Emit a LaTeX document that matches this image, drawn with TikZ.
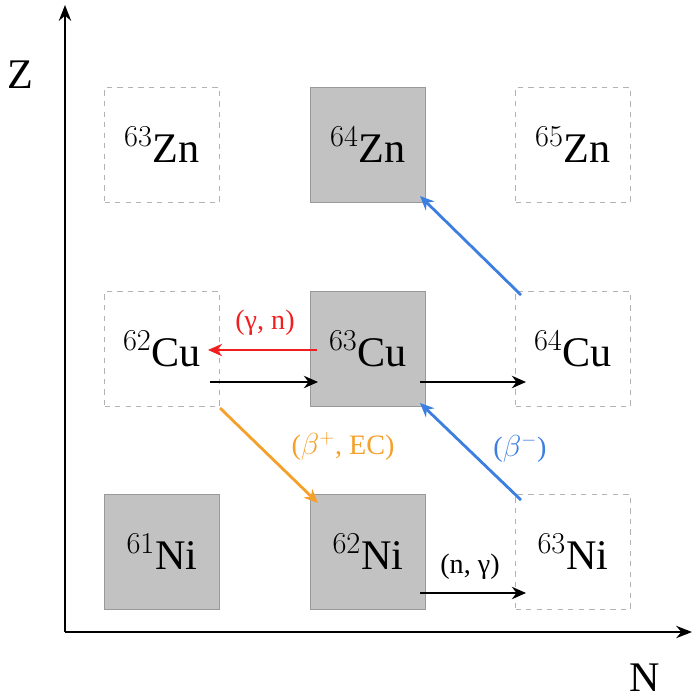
\documentclass[tikz,border=0pt]{standalone}
\usepackage{fontspec}
\setmainfont{Liberation Serif}
\usetikzlibrary{arrows.meta, positioning}
\definecolor{boxgray}{HTML}{C2C2C2}
\definecolor{rxred}{HTML}{F01E1E}
\definecolor{rxorange}{HTML}{F5A02A}
\definecolor{rxblue}{HTML}{3C7FE0}
\begin{document}
\begin{tikzpicture}[x=0.02cm, y=-0.02cm,
  stable/.style={draw=gray!80, fill=boxgray, minimum size=2.3cm, inner sep=0pt, font=\fontsize{24}{28}\selectfont},
  unstable/.style={draw=gray!60, dashed, minimum size=2.3cm, inner sep=0pt, font=\fontsize{24}{28}\selectfont},
  rxarrow/.style={-{Stealth[length=8pt,width=7pt]}, line width=1.6pt},
  rxlabel/.style={font=\fontsize{16}{18}\selectfont}
]
\useasboundingbox (0,0) rectangle (696,700);

% axes
\coordinate (origin) at (65,632);
\coordinate (ztip) at (65,5);
\coordinate (ntip) at (692,632);
\draw[-{Stealth[length=9pt,width=7pt]}, line width=1.2pt] (origin) -- (ztip);
\draw[-{Stealth[length=9pt,width=7pt]}, line width=1.2pt] (origin) -- (ntip);
\node[font=\fontsize{24}{28}\selectfont] (zlabel) at (20,75) {Z};
\node[font=\fontsize{24}{28}\selectfont] (nlabel) at (645,678) {N};

% nuclides
\node[unstable] (zn63) at (162,145) {$^{63}$Zn};
\node[stable]   (zn64) at (368,145) {$^{64}$Zn};
\node[unstable] (zn65) at (573,145) {$^{65}$Zn};
\node[unstable] (cu62) at (162,349) {$^{62}$Cu};
\node[stable]   (cu63) at (368,349) {$^{63}$Cu};
\node[unstable] (cu64) at (573,349) {$^{64}$Cu};
\node[stable]   (ni61) at (162,552) {$^{61}$Ni};
\node[stable]   (ni62) at (368,552) {$^{62}$Ni};
\node[unstable] (ni63) at (573,552) {$^{63}$Ni};

% reaction points
\coordinate (redA) at (317,350);  \coordinate (redB) at (208,350);
\coordinate (blkA) at (210,382);  \coordinate (blkB) at (318,382);
\coordinate (blkC) at (420,382);  \coordinate (blkD) at (526,382);
\coordinate (orgA) at (220,408);  \coordinate (orgB) at (318,503);
\coordinate (bluA) at (521,500);  \coordinate (bluB) at (420,403);
\coordinate (bluC) at (521,295);  \coordinate (bluD) at (420,196);
\coordinate (ngA) at (420,593);   \coordinate (ngB) at (526,593);

\draw[rxarrow, rxred] (redA) -- (redB);
\node[rxlabel, text=rxred] (gnlabel) at (265,323) {(γ, n)};
\draw[rxarrow] (blkA) -- (blkB);
\draw[rxarrow] (blkC) -- (blkD);
\draw[rxarrow, rxorange] (orgA) -- (orgB);
\node[rxlabel, text=rxorange] (eclabel) at (343,446) {($\beta^{+}$, EC)};
\draw[rxarrow, rxblue] (bluA) -- (bluB);
\node[rxlabel, text=rxblue] (bmlabel) at (520,448) {($\beta^{-}$)};
\draw[rxarrow, rxblue] (bluC) -- (bluD);
\draw[rxarrow] (ngA) -- (ngB);
\node[rxlabel] (nglabel) at (470,567) {(n, γ)};
\end{tikzpicture}
\end{document}
